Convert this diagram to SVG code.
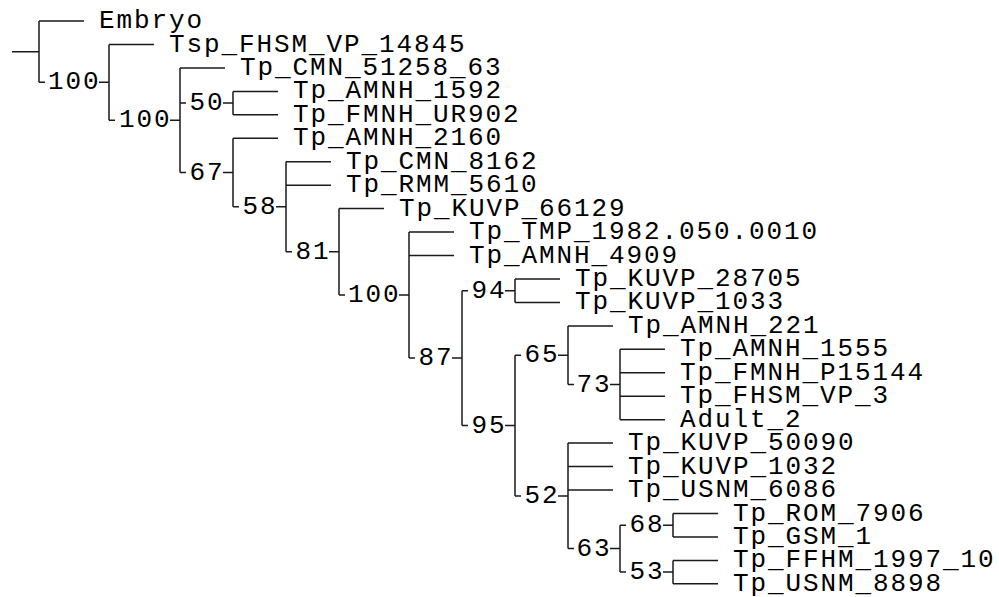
<svg xmlns="http://www.w3.org/2000/svg" width="999" height="597" viewBox="0 0 999 597">
<style>
.c{fill:none;stroke:#1a1a1a;stroke-width:1.5}
text{font-family:"Liberation Mono","DejaVu Sans Mono",monospace;font-size:26px;letter-spacing:1.9px;fill:#000}
</style>
<rect width="999" height="597" fill="#fff"/>
<g id="connectors" class="c">
<path d="M12 51.7H39M39 21V82.3"/>
<path d="M39 82.3H45M99 82.3H109M109 44.5V120.2"/>
<path d="M109 120.2H115M170 120.2H180M180 67.9V172.5"/>
<path d="M180 103.1H186M223 103.1H233M233 91.4V114.8"/>
<path d="M180 172.5H186M223 172.5H233M233 138.3V206.8"/>
<path d="M233 206.8H239M276 206.8H286M286 161.7V251.8"/>
<path d="M286 251.8H292M329 251.8H339M339 208.6V295.1"/>
<path d="M339 295.1H345M399 295.1H409M409 232.1V358.1"/>
<path d="M409 358.1H415M452 358.1H462M462 290.7V425.5"/>
<path d="M462 290.7H468M505 290.7H515M515 279V302.4"/>
<path d="M462 425.5H468M505 425.5H515M515 355.2V495.9"/>
<path d="M515 355.2H521M558 355.2H568M568 325.9V384.5"/>
<path d="M568 384.5H574M610 384.5H620M620 349.3V419.7"/>
<path d="M515 495.9H521M558 495.9H568M568 443.1V548.6"/>
<path d="M568 548.6H574M610 548.6H620M620 525.2V572.1"/>
<path d="M620 525.2H626M663 525.2H673M673 513.5V536.9"/>
<path d="M620 572.1H626M663 572.1H673M673 560.4V583.8"/>
<path d="M39 21H84M109 44.5H154M180 67.9H225M233 91.4H278M233 114.8H278M233 138.3H278M286 161.7H331M286 185.2H331M339 208.6H384M409 232.1H454M409 255.5H454M515 279H560M515 302.4H560M568 325.9H613M620 349.3H665M620 372.8H665M620 396.2H665M620 419.7H665M568 443.1H613M568 466.6H613M568 490H613M673 513.5H718M673 536.9H718M673 560.4H718M673 583.8H718"/>
</g>
<g id="leaf-Embryo"><text x="99" y="28">Embryo</text></g>
<g id="leaf-Tsp_FHSM_VP_14845"><text x="169" y="51.5">Tsp_FHSM_VP_14845</text></g>
<g id="leaf-Tp_CMN_51258_63"><text x="240" y="74.9">Tp_CMN_51258_63</text></g>
<g id="leaf-Tp_AMNH_1592"><text x="293" y="98.4">Tp_AMNH_1592</text></g>
<g id="leaf-Tp_FMNH_UR902"><text x="293" y="121.8">Tp_FMNH_UR902</text></g>
<g id="leaf-Tp_AMNH_2160"><text x="293" y="145.3">Tp_AMNH_2160</text></g>
<g id="leaf-Tp_CMN_8162"><text x="346" y="168.7">Tp_CMN_8162</text></g>
<g id="leaf-Tp_RMM_5610"><text x="346" y="192.2">Tp_RMM_5610</text></g>
<g id="leaf-Tp_KUVP_66129"><text x="399" y="215.6">Tp_KUVP_66129</text></g>
<g id="leaf-Tp_TMP_1982.050.0010"><text x="469" y="239.1">Tp_TMP_1982.050.0010</text></g>
<g id="leaf-Tp_AMNH_4909"><text x="469" y="262.5">Tp_AMNH_4909</text></g>
<g id="leaf-Tp_KUVP_28705"><text x="575" y="286">Tp_KUVP_28705</text></g>
<g id="leaf-Tp_KUVP_1033"><text x="575" y="309.4">Tp_KUVP_1033</text></g>
<g id="leaf-Tp_AMNH_221"><text x="628" y="332.9">Tp_AMNH_221</text></g>
<g id="leaf-Tp_AMNH_1555"><text x="680" y="356.3">Tp_AMNH_1555</text></g>
<g id="leaf-Tp_FMNH_P15144"><text x="680" y="379.8">Tp_FMNH_P15144</text></g>
<g id="leaf-Tp_FHSM_VP_3"><text x="680" y="403.2">Tp_FHSM_VP_3</text></g>
<g id="leaf-Adult_2"><text x="680" y="426.7">Adult_2</text></g>
<g id="leaf-Tp_KUVP_50090"><text x="628" y="450.1">Tp_KUVP_50090</text></g>
<g id="leaf-Tp_KUVP_1032"><text x="628" y="473.6">Tp_KUVP_1032</text></g>
<g id="leaf-Tp_USNM_6086"><text x="628" y="497">Tp_USNM_6086</text></g>
<g id="leaf-Tp_ROM_7906"><text x="733" y="520.5">Tp_ROM_7906</text></g>
<g id="leaf-Tp_GSM_1"><text x="733" y="543.9">Tp_GSM_1</text></g>
<g id="leaf-Tp_FFHM_1997_10"><text x="733" y="567.4">Tp_FFHM_1997_10</text></g>
<g id="leaf-Tp_USNM_8898"><text x="733" y="590.8">Tp_USNM_8898</text></g>
<g id="node-A"><text x="48" y="89.3">100</text></g>
<g id="node-B"><text x="119" y="127.2">100</text></g>
<g id="node-50"><text x="189.5" y="110.1">50</text></g>
<g id="node-67"><text x="189.5" y="179.5">67</text></g>
<g id="node-58"><text x="242.5" y="213.8">58</text></g>
<g id="node-81"><text x="295.5" y="258.8">81</text></g>
<g id="node-100b"><text x="348" y="302.1">100</text></g>
<g id="node-87"><text x="418.5" y="365.1">87</text></g>
<g id="node-94"><text x="471.5" y="297.7">94</text></g>
<g id="node-95"><text x="471.5" y="432.5">95</text></g>
<g id="node-65"><text x="524.5" y="362.2">65</text></g>
<g id="node-73"><text x="576.5" y="391.5">73</text></g>
<g id="node-52"><text x="524.5" y="502.9">52</text></g>
<g id="node-63"><text x="576.5" y="555.6">63</text></g>
<g id="node-68"><text x="629.5" y="532.2">68</text></g>
<g id="node-53"><text x="629.5" y="579.1">53</text></g>
</svg>
